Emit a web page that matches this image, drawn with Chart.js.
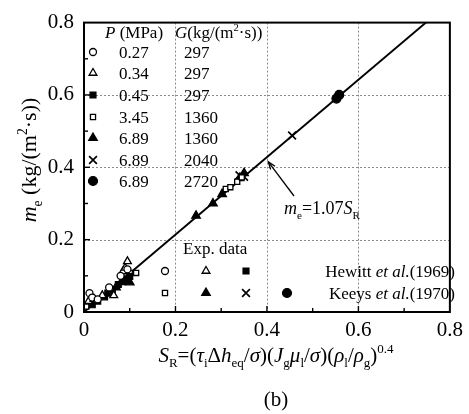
<!DOCTYPE html>
<html>
<head>
<meta charset="utf-8">
<script src="https://cdn.jsdelivr.net/npm/chart.js@4.4.1/dist/chart.umd.min.js"></script>
<style>
  html, body { margin: 0; padding: 0; background: #fff; }
  #wrap { width: 469px; height: 414px; }
</style>
</head>
<body>
<div id="wrap"><canvas id="c" width="469" height="414"></canvas></div>
<script>
// Entrainment rate m_e versus the correlating group S_R
const xTicks = [0, 0.2, 0.4, 0.6, 0.8];
const yTicks = [0, 0.2, 0.4, 0.6, 0.8];

// legend table: pressure (MPa) and mass flux (kg/(m^2 s)) for each symbol
const pressures = ['0.27', '0.34', '0.45', '3.45', '6.89', '6.89', '6.89'];
const massFluxes = ['297', '297', '297', '1360', '1360', '2040', '2720'];

// measured points [S_R, m_e]
const p027 = [[0.012, 0.052], [0.018, 0.040], [0.030, 0.035], [0.055, 0.068], [0.080, 0.100], [0.095, 0.118]];
const p034 = [[0.010, 0.030], [0.022, 0.036], [0.040, 0.046], [0.065, 0.046], [0.085, 0.112], [0.090, 0.122], [0.095, 0.140]];
const p045 = [[0.018, 0.020], [0.030, 0.030], [0.045, 0.042], [0.052, 0.052], [0.062, 0.060], [0.075, 0.076], [0.085, 0.084], [0.090, 0.092], [0.100, 0.098]];
const p345 = [[0.005, 0.015], [0.090, 0.102], [0.100, 0.108], [0.114, 0.108], [0.310, 0.340], [0.320, 0.345], [0.335, 0.360], [0.345, 0.372]];
const p689a = [[0.070, 0.068], [0.085, 0.090], [0.095, 0.100], [0.100, 0.082], [0.245, 0.266], [0.282, 0.300], [0.302, 0.326], [0.340, 0.370], [0.350, 0.384]];
const p689b = [[0.340, 0.378], [0.350, 0.374], [0.455, 0.488]];
const p689c = [[0.552, 0.590], [0.558, 0.600]];

// correlation line m_e = 1.07 S_R
const slope = 1.07;
const xMax = 0.8, yMax = 0.8;
const fitLine = [0, yMax / slope].map(x => ({ x: x, y: slope * x }));

const SERIF = "'Liberation Serif', 'Times New Roman', serif";
const toPts = arr => arr.map(p => ({ x: p[0], y: p[1] }));

const symbols = [
  { pointStyle: 'circle',   radius: 3.5, fill: false, bw: 1.3 },
  { pointStyle: 'triangle', radius: 4.5, fill: false, bw: 1.3 },
  { pointStyle: 'rect',     radius: 4.2, fill: true,  bw: 1.2 },
  { pointStyle: 'rect',     radius: 3.6, fill: false, bw: 1.3 },
  { pointStyle: 'triangle', radius: 5,   fill: true,  bw: 1.2 },
  { pointStyle: 'crossRot', radius: 5.5, fill: false, bw: 1.7 },
  { pointStyle: 'circle',   radius: 4.5, fill: true,  bw: 1.2 }
];
const series = [p027, p034, p045, p345, p689a, p689b, p689c];

const datasets = series.map((s, i) => ({
  type: 'scatter',
  label: 'P=' + pressures[i] + ' G=' + massFluxes[i],
  data: toPts(s),
  pointStyle: symbols[i].pointStyle,
  pointRadius: symbols[i].radius,
  pointHoverRadius: symbols[i].radius,
  pointBorderWidth: symbols[i].bw,
  pointBorderColor: '#000',
  pointBackgroundColor: symbols[i].fill ? '#000' : '#fff',
  order: 1
}));
datasets.unshift({
  type: 'line',
  label: 'm_e = 1.07 S_R',
  data: fitLine,
  borderColor: '#000',
  borderWidth: 2,
  pointRadius: 0,
  fill: false,
  order: 2
});

// draw text made of runs: {t, it (italic), pos: 'sub'|'sup'}
function richWidth(ctx, runs, size) {
  let w = 0;
  runs.forEach(r => {
    const s = r.pos ? size * 0.62 : size;
    ctx.font = (r.it ? 'italic ' : '') + s + 'px ' + SERIF;
    w += ctx.measureText(r.t).width;
  });
  return w;
}
function drawRich(ctx, runs, x, y, size, align) {
  const w = richWidth(ctx, runs, size);
  let cx = align === 'center' ? x - w / 2 : (align === 'right' ? x - w : x);
  ctx.textBaseline = 'alphabetic';
  ctx.textAlign = 'left';
  runs.forEach(r => {
    const s = r.pos ? size * 0.62 : size;
    ctx.font = (r.it ? 'italic ' : '') + s + 'px ' + SERIF;
    let dy = 0;
    if (r.pos === 'sub') dy = size * 0.25;
    if (r.pos === 'sup') dy = -size * 0.42;
    ctx.fillText(r.t, cx, y + dy);
    cx += ctx.measureText(r.t).width;
  });
}

function marker(ctx, i, x, y) {
  const sym = symbols[i];
  ctx.save();
  ctx.lineWidth = sym.bw;
  ctx.strokeStyle = '#000';
  ctx.fillStyle = sym.fill ? '#000' : '#fff';
  Chart.helpers.drawPoint(ctx, { pointStyle: sym.pointStyle, radius: sym.radius, borderWidth: sym.bw, rotation: 0 }, x, y);
  ctx.restore();
}

const framePlugin = {
  id: 'frame',
  beforeDatasetsDraw(chart) {
    const { ctx, chartArea: a, scales: { x, y } } = chart;
    ctx.save();
    // dotted reference lines
    ctx.strokeStyle = '#8a8a8a';
    ctx.lineWidth = 1;
    ctx.setLineDash([2, 2]);
    [0.2, 0.4, 0.6].forEach(v => {
      const px = Math.round(x.getPixelForValue(v)) + 0.5;
      ctx.beginPath(); ctx.moveTo(px, a.top); ctx.lineTo(px, a.bottom); ctx.stroke();
      const py = Math.round(y.getPixelForValue(v)) + 0.5;
      ctx.beginPath(); ctx.moveTo(a.left, py); ctx.lineTo(a.right, py); ctx.stroke();
    });
    ctx.restore();
  },
  afterDraw(chart) {
    const { ctx, chartArea: a, scales: { x, y } } = chart;
    ctx.save();
    // box
    ctx.strokeStyle = '#000';
    ctx.lineWidth = 2;
    ctx.strokeRect(a.left, a.top, a.right - a.left, a.bottom - a.top);
    // inward ticks
    ctx.lineWidth = 1.4;
    for (let k = 1; k < 8; k++) {
      const v = k / 10;
      const len = k % 2 === 0 ? 6 : 4;
      const px = x.getPixelForValue(v);
      ctx.beginPath(); ctx.moveTo(px, a.bottom); ctx.lineTo(px, a.bottom - len); ctx.stroke();
      const py = y.getPixelForValue(v);
      ctx.beginPath(); ctx.moveTo(a.left, py); ctx.lineTo(a.left + len, py); ctx.stroke();
    }

    ctx.fillStyle = '#000';
    // legend table
    drawRich(ctx, [{ t: 'P', it: true }, { t: ' (MPa)' }], 105, 38, 17, 'left');
    drawRich(ctx, [{ t: 'G', it: true }, { t: '(kg/(m' }, { t: '2', pos: 'sup' }, { t: '·s))' }], 175, 38, 17, 'left');
    const rows = [52, 73, 95, 117, 138, 160, 181];
    rows.forEach((ry, i) => {
      marker(ctx, i, 93, ry);
      drawRich(ctx, [{ t: pressures[i] }], 119, ry + 6, 17, 'left');
      drawRich(ctx, [{ t: massFluxes[i] }], 184, ry + 6, 17, 'left');
    });

    // source key
    drawRich(ctx, [{ t: 'Exp. data' }], 183, 254, 17, 'left');
    marker(ctx, 0, 165, 271);
    marker(ctx, 1, 206, 271);
    marker(ctx, 2, 246, 271);
    marker(ctx, 3, 165, 293);
    marker(ctx, 4, 206, 293);
    marker(ctx, 5, 246, 293);
    marker(ctx, 6, 287, 293);
    drawRich(ctx, [{ t: 'Hewitt ' }, { t: 'et al.', it: true }, { t: '(1969)' }], 455, 277, 17, 'right');
    drawRich(ctx, [{ t: 'Keeys ' }, { t: 'et al.', it: true }, { t: '(1970)' }], 455, 299, 17, 'right');

    // correlation label with arrow
    drawRich(ctx, [{ t: 'm', it: true }, { t: 'e', pos: 'sub' }, { t: '=1.07' }, { t: 'S', it: true }, { t: 'R', pos: 'sub' }], 284, 214, 18, 'left');
    const ax = x.getPixelForValue(0.403), ay = y.getPixelForValue(0.415);
    const tx = 294, ty = 196;
    ctx.lineWidth = 1.3;
    ctx.beginPath(); ctx.moveTo(tx, ty); ctx.lineTo(ax, ay); ctx.stroke();
    const ang = Math.atan2(ay - ty, ax - tx);
    ctx.beginPath();
    ctx.moveTo(ax - 8 * Math.cos(ang - 0.35), ay - 8 * Math.sin(ang - 0.35));
    ctx.lineTo(ax, ay);
    ctx.lineTo(ax - 8 * Math.cos(ang + 0.35), ay - 8 * Math.sin(ang + 0.35));
    ctx.stroke();

    // axis titles
    drawRich(ctx, [
      { t: 'S', it: true }, { t: 'R', pos: 'sub' }, { t: '=(' }, { t: 'τ', it: true }, { t: 'i', pos: 'sub' },
      { t: 'Δ' }, { t: 'h', it: true }, { t: 'eq', pos: 'sub' }, { t: '/' }, { t: 'σ', it: true }, { t: ')(' },
      { t: 'J', it: true }, { t: 'g', pos: 'sub' }, { t: 'μ', it: true }, { t: 'l', pos: 'sub' }, { t: '/' },
      { t: 'σ', it: true }, { t: ')(' }, { t: 'ρ', it: true }, { t: 'l', pos: 'sub' }, { t: '/' },
      { t: 'ρ', it: true }, { t: 'g', pos: 'sub' }, { t: ')' }, { t: '0.4', pos: 'sup' }
    ], 276, 362, 21, 'center');
    drawRich(ctx, [{ t: '(b)' }], 276, 406, 21, 'center');

    ctx.translate(36, 160);
    ctx.rotate(-Math.PI / 2);
    drawRich(ctx, [{ t: 'm', it: true }, { t: 'e', pos: 'sub' }, { t: ' (kg/(m' }, { t: '2', pos: 'sup' }, { t: '·s))' }], 0, 0, 22, 'center');
    ctx.restore();
  }
};

new Chart(document.getElementById('c'), {
  data: { datasets: datasets },
  options: {
    responsive: false,
    animation: false,
    events: [],
    layout: { padding: { top: 16, right: 13, left: 0, bottom: 0 } },
    plugins: { legend: { display: false }, tooltip: { enabled: false } },
    scales: {
      x: {
        type: 'linear', min: 0, max: xMax,
        grid: { display: false, drawTicks: false },
        border: { display: false },
        afterBuildTicks: s => { s.ticks = xTicks.map(v => ({ value: v })); },
        afterFit: s => { s.height = 102; },
        ticks: { color: '#000', padding: 6, font: { family: SERIF, size: 21 }, maxRotation: 0 }
      },
      y: {
        type: 'linear', min: 0, max: yMax,
        grid: { display: false, drawTicks: false },
        border: { display: false },
        afterBuildTicks: s => { s.ticks = yTicks.map(v => ({ value: v })); },
        afterFit: s => { s.width = 84; },
        ticks: { color: '#000', padding: 10, font: { family: SERIF, size: 21 } }
      }
    }
  },
  plugins: [framePlugin]
});
</script>
</body>
</html>
